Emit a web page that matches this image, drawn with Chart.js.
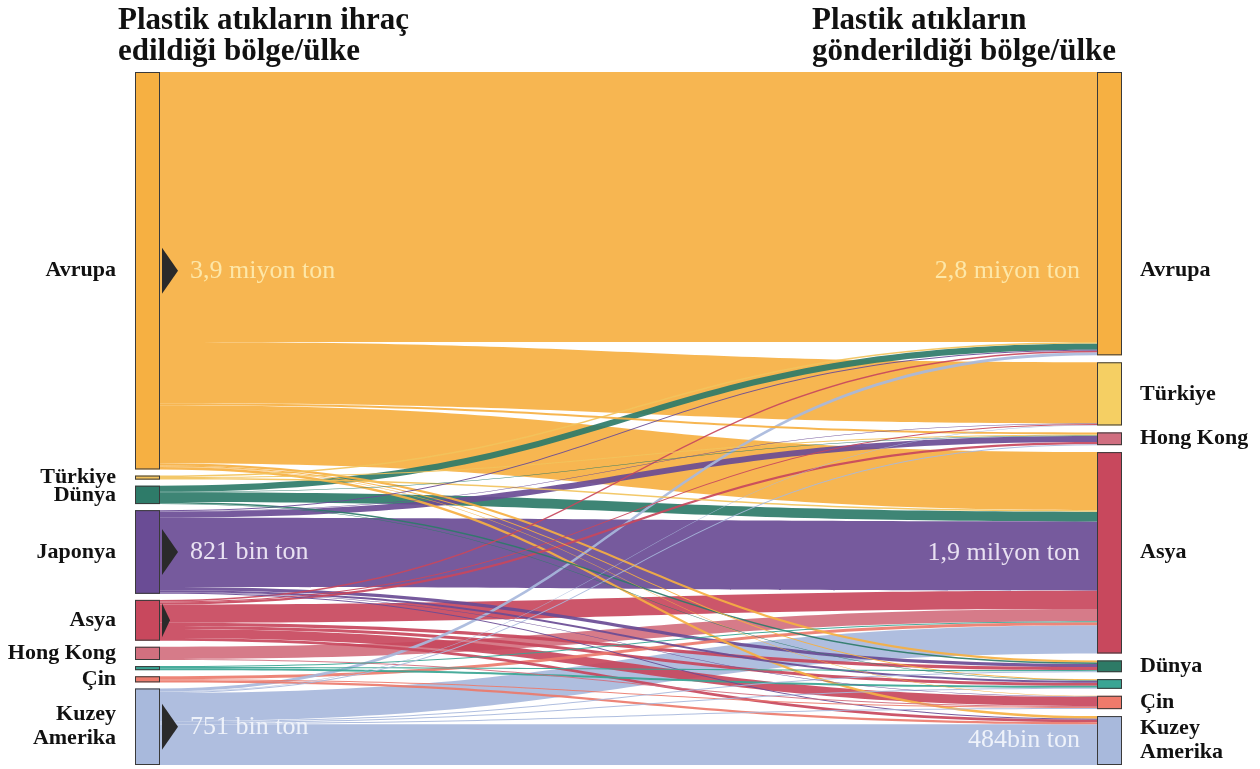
<!DOCTYPE html>
<html lang="tr">
<head>
<meta charset="utf-8">
<title>Plastik atık ticareti</title>
<script src="https://cdn.jsdelivr.net/npm/chart.js@4.4.1/dist/chart.umd.min.js"></script>
<style>
  html, body { margin: 0; padding: 0; background: #fff; }
  #wrap { width: 1260px; height: 769px; }
</style>
</head>
<body>
<div id="wrap"><canvas id="sankey" width="1260" height="769"></canvas></div>
<script>
// values in thousand tonnes (bin ton)
const exportRegions = ['Avrupa', 'Türkiye', 'Dünya', 'Japonya', 'Asya', 'Hong Kong', '', 'Çin', 'Kuzey Amerika'];
const importRegions = ['Avrupa', 'Türkiye', 'Hong Kong', 'Asya', 'Dünya', '', 'Çin', 'Kuzey Amerika'];

// one row per exporter, columns follow importRegions
const fromAvrupa      = [2650, 600, 20, 570, 20, 10, 5, 25];
const fromTurkiye     = [15, 0, 10, 15, 0, 0, 0, 0];
const fromDunya       = [60, 0, 5, 95, 15, 5, 0, 0];
const fromJaponya     = [10, 5, 60, 680, 30, 20, 6, 10];
const fromAsya        = [15, 10, 20, 180, 30, 30, 90, 25];
const fromHongKong    = [0, 0, 0, 120, 0, 0, 10, 0];
const fromDiger       = [0, 0, 0, 10, 10, 20, 0, 0];
const fromCin         = [0, 0, 0, 30, 0, 0, 10, 20];
const fromKuzeyAmerika = [30, 5, 10, 276, 10, 10, 10, 400];

const exportValueLabels = ['3,9 miyon ton', '', '', '821 bin ton', '', '', '', '', '751 bin ton'];
const importValueLabels = ['2,8 miyon ton', '', '', '1,9 milyon ton', '', '', '', '484bin ton'];

const exportColors = ['#f6b042', '#f2c35c', '#2e7b69', '#6a4c95', '#c8485d', '#d2707f', '#3aa594', '#ec7b6d', '#a8b9dc'];
const importColors = ['#f6b042', '#f5cf63', '#d06e80', '#c8485d', '#2d7a66', '#3aa594', '#f07a6b', '#a8b9dc'];
const valueTextColors = { 'Avrupa': '#fde7a8', 'Japonya': '#e9e1f2', 'Asya': '#e9e1f2', 'Kuzey Amerika': '#eef2fa' };

const tradeMatrix = [fromAvrupa, fromTurkiye, fromDunya, fromJaponya, fromAsya, fromHongKong, fromDiger, fromCin, fromKuzeyAmerika];

const NODE_W = 25;
const SERIF = '"Liberation Serif", "DejaVu Serif", serif';

function sum(a) { return a.reduce((s, v) => s + v, 0); }

const sankeyPlugin = {
  id: 'sankey',
  afterDraw(chart) {
    const ctx = chart.ctx;
    const xs = chart.scales.x, ys = chart.scales.y;
    const nL = exportRegions.length, nR = importRegions.length;

    const leftTot = tradeMatrix.map(r => sum(r));
    const rightTot = importRegions.map((_, j) => sum(tradeMatrix.map(r => r[j])));
    const gapL = (ys.max - sum(leftTot)) / (nL - 1);
    const gapR = (ys.max - sum(rightTot)) / (nR - 1);

    const leftStart = [], rightStart = [];
    let v = 0;
    leftTot.forEach((t, i) => { leftStart[i] = v; v += t + gapL; });
    v = 0;
    rightTot.forEach((t, j) => { rightStart[j] = v; v += t + gapR; });

    const xLeft = xs.getPixelForValue(0);
    const xRight = xs.getPixelForValue(1);
    const x0 = xLeft + NODE_W, x1 = xRight - NODE_W, xm = (x0 + x1) / 2;

    // ribbon offsets
    const outOff = leftStart.slice(), inOff = rightStart.slice();
    const ribbons = [];
    for (let i = 0; i < nL; i++) {
      for (let j = 0; j < nR; j++) {
        const val = tradeMatrix[i][j];
        if (!val) continue;
        ribbons.push({ i, j, val, s0: outOff[i], t0: inOff[j] });
        outOff[i] += val;
        inOff[j] += val;
      }
    }
    // widest ribbons first so thin ones stay visible
    ribbons.sort((a, b) => b.val - a.val);
    ctx.save();
    ribbons.forEach(r => {
      const ya = ys.getPixelForValue(r.s0), yb = ys.getPixelForValue(r.s0 + r.val);
      const yc = ys.getPixelForValue(r.t0), yd = ys.getPixelForValue(r.t0 + r.val);
      ctx.beginPath();
      ctx.moveTo(x0, ya);
      ctx.bezierCurveTo(xm, ya, xm, yc, x1, yc);
      ctx.lineTo(x1, yd);
      ctx.bezierCurveTo(xm, yd, xm, yb, x0, yb);
      ctx.closePath();
      ctx.globalAlpha = 0.92;
      ctx.fillStyle = exportColors[r.i];
      ctx.fill();
    });
    ctx.globalAlpha = 1;

    // nodes
    ctx.lineWidth = 1;
    ctx.strokeStyle = '#3a3a3a';
    const drawNode = (x, start, tot, color) => {
      const ya = ys.getPixelForValue(start), yb = ys.getPixelForValue(start + tot);
      ctx.fillStyle = color;
      ctx.fillRect(x, ya, NODE_W, yb - ya);
      ctx.strokeRect(x + 0.5, ya + 0.5, NODE_W - 1, Math.max(yb - ya - 1, 1));
    };
    leftTot.forEach((t, i) => drawNode(xLeft, leftStart[i], t, exportColors[i]));
    rightTot.forEach((t, j) => drawNode(xRight - NODE_W, rightStart[j], t, importColors[j]));

    const leftMid = i => ys.getPixelForValue(leftStart[i] + leftTot[i] / 2);
    const rightMid = j => ys.getPixelForValue(rightStart[j] + rightTot[j] / 2);

    // pointers on the larger exporters
    ctx.fillStyle = '#2a2a2a';
    exportRegions.forEach((name, i) => {
      if (!exportValueLabels[i] && name !== 'Asya') return;
      const h = name === 'Asya' ? 34 : 46, w = name === 'Asya' ? 8 : 16;
      const cy = leftMid(i);
      ctx.beginPath();
      ctx.moveTo(x0 + 2, cy - h / 2);
      ctx.lineTo(x0 + 2 + w, cy);
      ctx.lineTo(x0 + 2, cy + h / 2);
      ctx.closePath();
      ctx.fill();
    });

    // value labels inside the ribbons
    ctx.textBaseline = 'middle';
    ctx.font = '26px ' + SERIF;
    ctx.textAlign = 'left';
    exportValueLabels.forEach((txt, i) => {
      if (!txt) return;
      ctx.fillStyle = valueTextColors[exportRegions[i]];
      ctx.fillText(txt, x0 + 30, leftMid(i));
    });
    ctx.textAlign = 'right';
    importValueLabels.forEach((txt, j) => {
      if (!txt) return;
      const name = importRegions[j];
      const cy = name === 'Avrupa' ? leftMid(0) : rightMid(j);
      ctx.fillStyle = valueTextColors[name];
      ctx.fillText(txt, x1 - 17, cy);
    });

    // region names
    ctx.fillStyle = '#111';
    ctx.font = 'bold 22px ' + SERIF;
    const drawName = (name, x, cy, align) => {
      if (!name) return;
      ctx.textAlign = align;
      const lines = name === 'Kuzey Amerika' ? ['Kuzey', 'Amerika'] : [name];
      const lh = 24;
      lines.forEach((ln, k) => ctx.fillText(ln, x, cy + (k - (lines.length - 1) / 2) * lh));
    };
    exportRegions.forEach((name, i) => drawName(name, xLeft - 19, leftMid(i), 'right'));
    importRegions.forEach((name, j) => {
      const cy = name === 'Avrupa' ? leftMid(0) : rightMid(j);
      drawName(name, xRight + 18, cy, 'left');
    });

    // column headings
    ctx.font = 'bold 31px ' + SERIF;
    ctx.textBaseline = 'alphabetic';
    ctx.textAlign = 'left';
    ctx.fillText('Plastik atıkların ihraç', 118, 29);
    ctx.fillText('edildiği bölge/ülke', 118, 60);
    ctx.fillText('Plastik atıkların', 812, 29);
    ctx.fillText('gönderildiği bölge/ülke', 812, 60);
    ctx.restore();
  }
};

new Chart(document.getElementById('sankey').getContext('2d'), {
  type: 'scatter',
  data: { datasets: [{ data: [] }] },
  options: {
    responsive: false,
    animation: false,
    events: [],
    layout: { padding: { left: 135, right: 138, top: 72, bottom: 4 } },
    plugins: { legend: { display: false }, tooltip: { enabled: false } },
    scales: {
      x: { type: 'linear', min: 0, max: 1, display: false },
      y: { type: 'linear', min: 0, max: 6800, reverse: true, display: false }
    }
  },
  plugins: [sankeyPlugin]
});
</script>
</body>
</html>
